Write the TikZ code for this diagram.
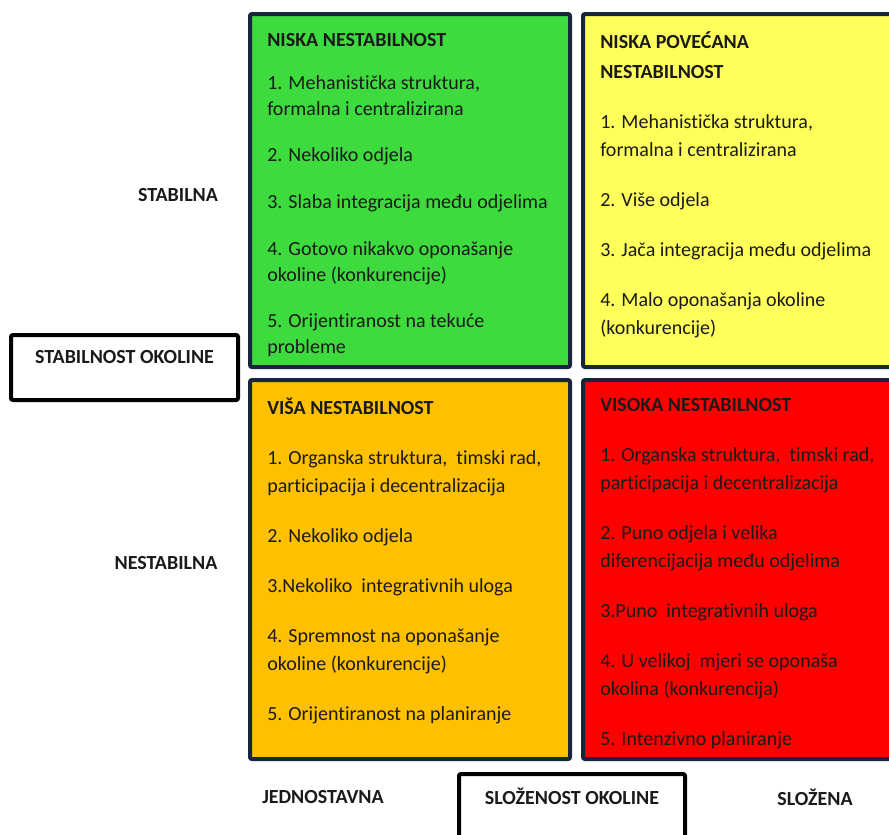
\documentclass[tikz,border=0pt]{standalone}
\usepackage{fontspec}
\setmainfont{Carlito}[Ligatures=CommonOff]
\definecolor{frame}{HTML}{17263A}
\definecolor{qgreen}{HTML}{3EDB3E}
\definecolor{qyellow}{HTML}{FFFF5C}
\definecolor{qorange}{HTML}{FFC000}
\definecolor{qred}{HTML}{FF0000}
\definecolor{ink}{HTML}{1A1A1A}
\newcommand{\gap}{\\[16.5pt]}

\begin{document}
\begin{tikzpicture}[x=0.75pt,y=-0.75pt,
    quad/.style={draw=frame, line width=3pt, rounded corners=1.5pt, anchor=north west,
        minimum width=240pt, inner sep=0pt},
    qtext/.style={anchor=north west, align=left, inner sep=0pt, text=ink,
        font=\fontsize{15}{21}\selectfont},
    axis/.style={text=ink, font=\fontsize{15}{19}\selectfont\bfseries},
    axisbox/.style={draw=black, line width=3pt, rounded corners=1.5pt, text=ink,
        font=\fontsize{15}{19}\selectfont\bfseries, inner xsep=0pt, inner ysep=11pt,
        text height=10pt, anchor=north}]
    \useasboundingbox (0,0) rectangle (889,835);
    \clip (0,0) rectangle (889,835);

    % quadrants
    \node[quad, fill=qgreen, minimum height=264.75pt] (green) at (248,12) {};
    \node[quad, fill=qyellow, minimum height=264.75pt] (yellow) at (581,12) {};
    \node[quad, fill=qorange, minimum height=284.25pt] (orange) at (248,378) {};
    \node[quad, fill=qred, minimum height=284.25pt] (red) at (581,378) {};

    \node[qtext, font=\fontsize{15}{19.5}\selectfont] (greentxt) at (267,33) {%
        \textbf{NISKA NESTABILNOST}\\[12.5pt]
        1. Mehanistička struktura,\\ formalna i centralizirana\\[15.5pt]
        2. Nekoliko odjela\\[15.5pt]
        3. Slaba integracija među odjelima\\[15.5pt]
        4. Gotovo nikakvo oponašanje\\ okoline (konkurencije)\\[15.5pt]
        5. Orijentiranost na tekuće\\ probleme};
    \node[qtext] (yellowtxt) at (600,31) {%
        \textbf{NISKA POVEĆANA}\\[1.5pt] \textbf{NESTABILNOST}\gap
        1. Mehanistička struktura,\\ formalna i centralizirana\gap
        2. Više odjela\gap
        3. Jača integracija među odjelima\gap
        4. Malo oponašanja okoline\\ (konkurencije)};
    \node[qtext] (orangetxt) at (267,398) {%
        \textbf{VIŠA NESTABILNOST}\gap
        1. Organska struktura, \ timski rad,\\ participacija i decentralizacija\gap
        2. Nekoliko odjela\gap
        3.Nekoliko \ integrativnih uloga\gap
        4. Spremnost na oponašanje\\ okoline (konkurencije)\gap
        5. Orijentiranost na planiranje};
    \node[qtext] (redtxt) at (600,398) {%
        \textbf{VISOKA NESTABILNOST}\gap
        1. Organska struktura, \ timski rad,\\ participacija i decentralizacija\gap
        2. Puno odjela i velika\\ diferencijacija među odjelima\gap
        3.Puno \ integrativnih uloga\gap
        4. U velikoj \ mjeri se oponaša\\ okolina (konkurencija)\gap
        5. Intenzivno planiranje};

    % axes
    \node[axis] (stable) at (178,195) {STABILNA};
    \node[axis] (unstable) at (166,563) {NESTABILNA};
    \node[axisbox, minimum width=170.25pt, text depth=16.75pt] (stabbox) at (124.5,333) {STABILNOST OKOLINE};
    \node[axis] (simple) at (323,797) {JEDNOSTAVNA};
    \node[axisbox, minimum width=169.5pt, text depth=30pt, inner ysep=13pt] (complbox) at (572,772) {SLOŽENOST OKOLINE};
    \node[axis] (complex) at (815,797) {SLOŽENA};
\end{tikzpicture}
\end{document}
